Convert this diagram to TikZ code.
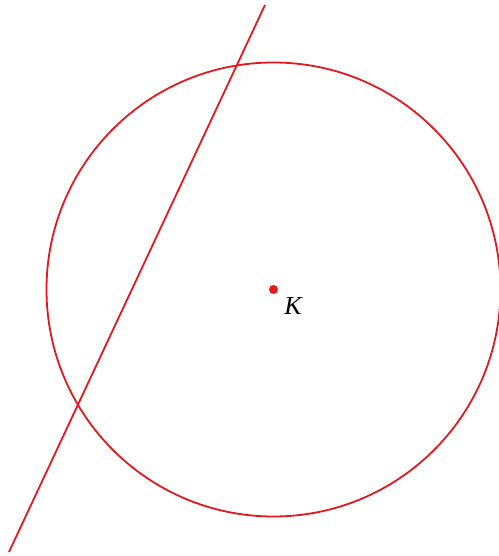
\documentclass[tikz,border=0pt]{standalone}
\usepackage{fontspec}
\setmainfont{Liberation Serif}
\definecolor{lred}{RGB}{225,25,30}
\begin{document}
\begin{tikzpicture}[x=1pt,y=-1pt,
  curve/.style={draw=lred,line width=1.8pt},
  lbl/.style={inner sep=0pt,font=\fontsize{26}{26}\selectfont\itshape}]
\useasboundingbox (0,0) rectangle (498,556);
\coordinate (K) at (273.5,289.5);
\draw[curve] (K) circle[radius=227];
\coordinate (A) at (265,5);
\coordinate (B) at (9,552);
\draw[curve] (A) -- (B);
\fill[lred] (K) circle[radius=4.5];
\node[lbl] (k) at (293,306) {K};
\end{tikzpicture}
\end{document}
